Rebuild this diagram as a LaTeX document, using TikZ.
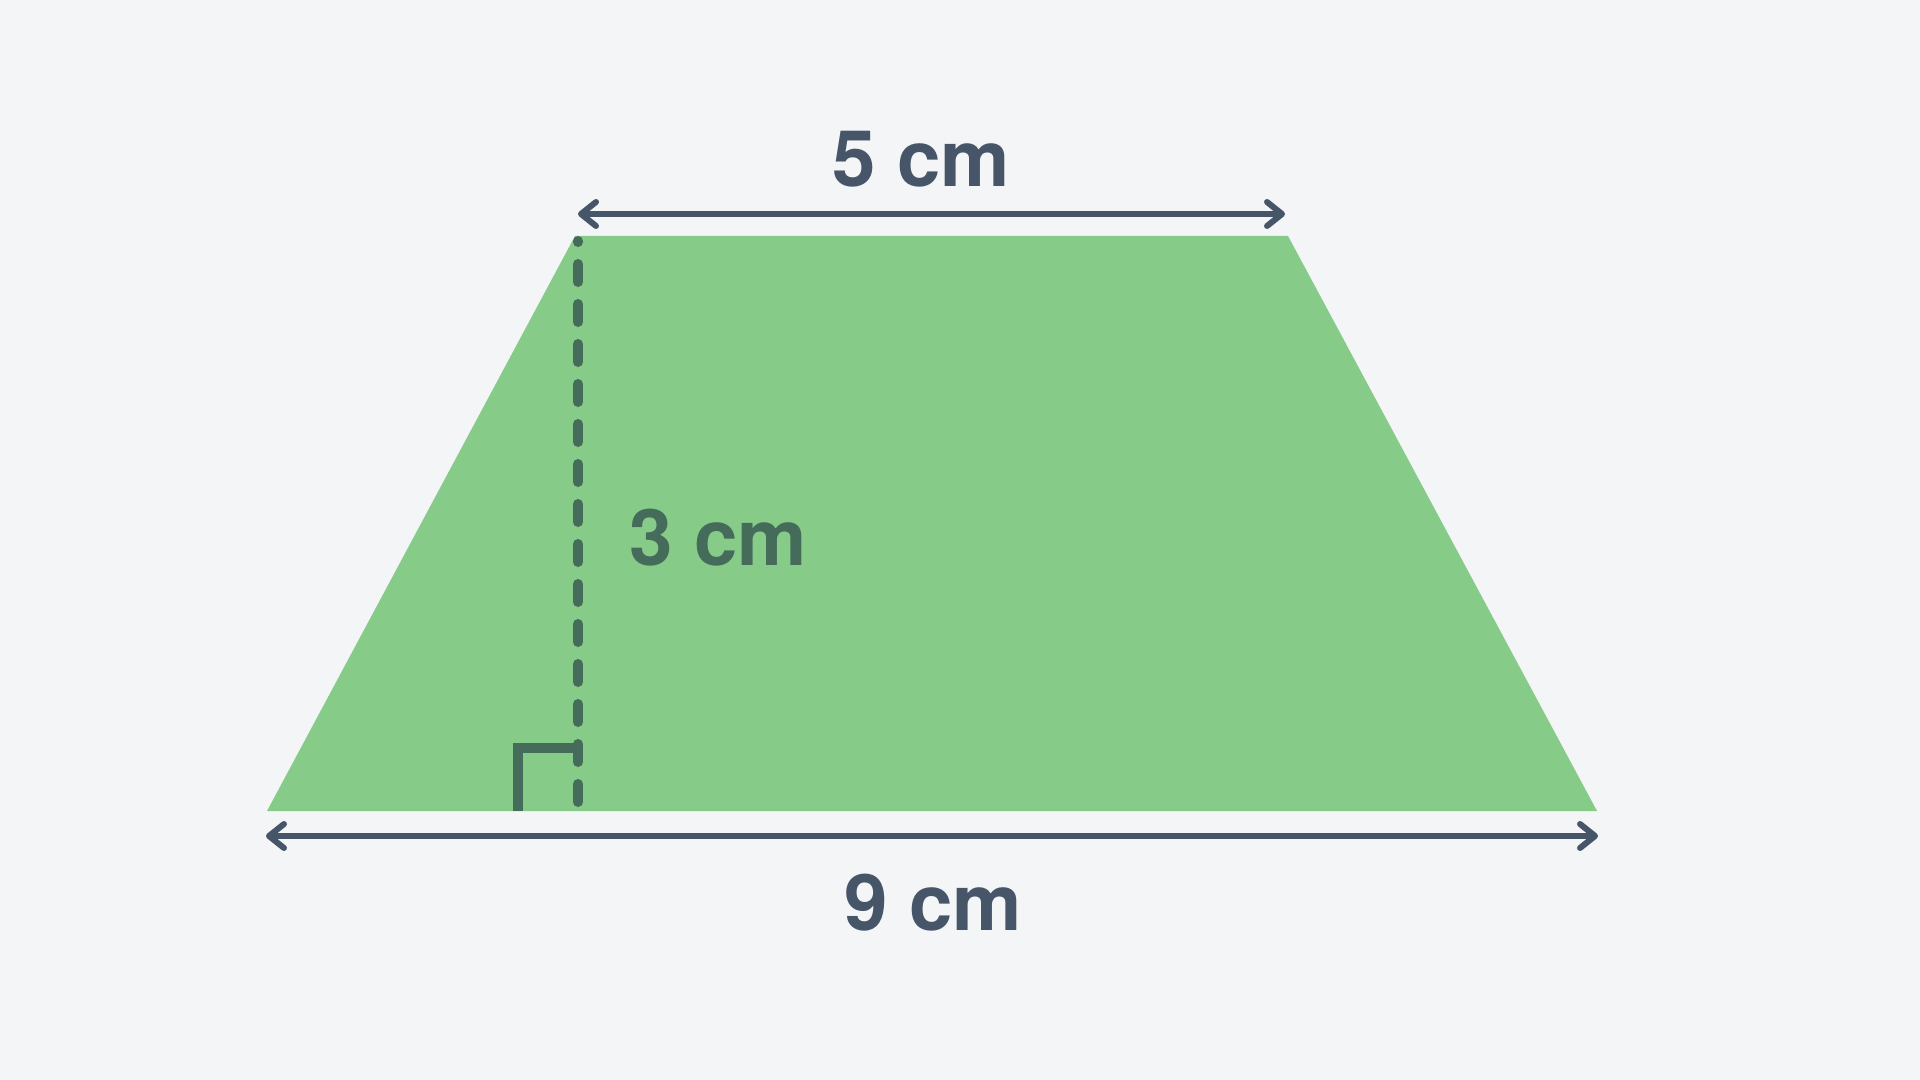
\documentclass[tikz,border=0pt]{standalone}
\usepackage{fontspec}
\setmainfont{TeX Gyre Heros}
\usetikzlibrary{arrows.meta}
\definecolor{bgc}{HTML}{F3F5F7}
\definecolor{fillgreen}{RGB}{134,204,136}
\definecolor{slate}{HTML}{475569}
\definecolor{darkgreen}{RGB}{69,107,91}
\tikzset{
  dimline/.style={draw=slate, line width=3pt,
    {Straight Barb[length=7.5pt,width=12pt,round]}-{Straight Barb[length=7.5pt,width=12pt,round]}},
  lbl/.style={font=\fontsize{39}{41}\selectfont\bfseries, inner sep=0pt},
  heightline/.style={draw=darkgreen, line width=5pt, line cap=round, dash pattern=on 9pt off 11pt},
  rightmark/.style={draw=darkgreen, line width=5pt, line cap=butt, miter limit=10}
}
\begin{document}
\begin{tikzpicture}[x=0.5pt,y=-0.5pt]
\fill[bgc] (0,0) rectangle (1920,1080);
\useasboundingbox (0,0) rectangle (1920,1080);
% trapezoid
\coordinate (A) at (267,811);
\coordinate (B) at (1597,811);
\coordinate (C) at (1288,236);
\coordinate (D) at (575,236);
\fill[fillgreen] (A) -- (B) -- (C) -- (D) -- cycle;
% height
\coordinate (hb) at (578,802);
\coordinate (ht) at (578,241);
\draw[heightline] (hb) -- (ht);
% right angle mark
\coordinate (r1) at (518,811);
\coordinate (r2) at (518,748);
\coordinate (r3) at (576,748);
\draw[rightmark] (r1) -- (r2) -- (r3);
% dimension arrows
\coordinate (t1) at (578,214);
\coordinate (t2) at (1285,214);
\draw[dimline] (t1) -- (t2);
\coordinate (b1) at (266,836);
\coordinate (b2) at (1598,836);
\draw[dimline] (b1) -- (b2);
% labels
\node[lbl, text=slate, anchor=base] (top) at (921,187) {5 cm};
\node[lbl, text=darkgreen, anchor=base west] (h) at (629,565) {3 cm};
\node[lbl, text=slate, anchor=base] (bot) at (933,930) {9 cm};
\end{tikzpicture}
\end{document}
